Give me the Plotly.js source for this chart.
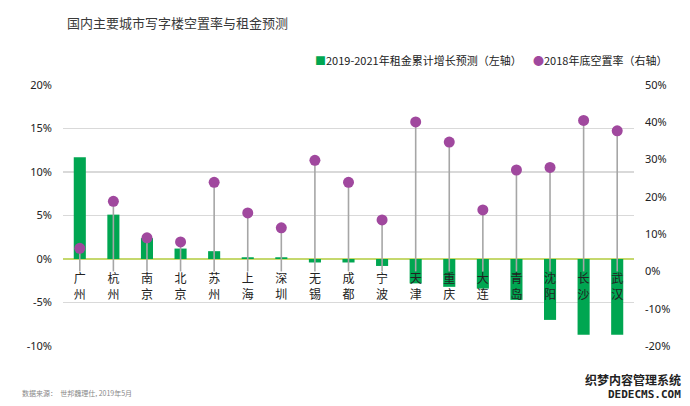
<!DOCTYPE html>
<html><head><meta charset="utf-8">
<script src="https://cdn.plot.ly/plotly-3.0.1.min.js"></script>
<style>html,body{margin:0;padding:0;background:#fff}</style>
</head><body><div id="chart" style="width:690px;height:406px"></div>
<script>
const cities = ['广州','杭州','南京','北京','苏州','上海','深圳','无锡','成都','宁波','天津','重庆','大连','青岛','沈阳','长沙','武汉'];
const rentGrowth = [11.7, 5.1, 2.4, 1.2, 0.9, 0.2, 0.2, -0.4, -0.4, -0.8, -2.8, -3.2, -3.4, -4.7, -7.0, -8.7, -8.7];
const vacancy = [6.2, 18.8, 9.0, 7.9, 23.9, 15.7, 11.7, 29.8, 23.9, 13.8, 40.1, 34.7, 16.5, 27.2, 27.9, 40.5, 37.7];
const leftTicks = [-10, -5, 0, 5, 10, 15, 20];
const rightTicks = [-20, -10, 0, 10, 20, 30, 40, 50];
const seriesNames = ['2019-2021年租金累计增长预测（左轴）', '2018年底空置率（右轴）'];
const titleText = '国内主要城市写字楼空置率与租金预测';
const sourceText = '数据来源：  世邦魏理仕, 2019年5月';

const GREEN = '#00a651', PURPLE = '#a0489e', STEM = '#a6a6a6';
const cjk = '"Noto Sans CJK SC", "Noto Sans", sans-serif';
const labels = cities.map(c => c.split('').join('<br>'));

const bars = {
  type: 'bar', x: labels, y: rentGrowth, name: seriesNames[0],
  marker: {color: GREEN}, width: 0.36, yaxis: 'y', showlegend: false,
  hoverinfo: 'skip'
};
const dots = {
  type: 'scatter', mode: 'markers', x: labels, y: vacancy, name: seriesNames[1], yaxis: 'y2',
  marker: {color: PURPLE, size: 11},
  error_y: {type: 'data', symmetric: false, array: vacancy.map(() => 0), arrayminus: vacancy,
            color: STEM, thickness: 1.6, width: 0},
  showlegend: false, hoverinfo: 'skip'
};

const layout = {
  width: 690, height: 406,
  margin: {l: 63, r: 56, t: 85, b: 60},
  paper_bgcolor: '#fff', plot_bgcolor: '#fff',
  font: {family: cjk, color: '#333'},
  title: {text: titleText, x: 0.097, xanchor: 'left', y: 0.943, yanchor: 'middle',
          font: {size: 13, color: '#3a3a3a', family: cjk}},
  xaxis: {type: 'category', range: [-0.5, cities.length - 0.5], autorange: false,
          anchor: 'free', position: 0.333, showline: false, ticks: '',
          showgrid: false, tickfont: {size: 12, color: '#222', family: cjk}, tickangle: 0, ticklabelstandoff: 11},
  yaxis: {range: [-10, 20], tickvals: leftTicks, ticktext: leftTicks.map(v => v + '%'),
          showgrid: true, gridcolor: '#d9d9d9', gridwidth: 1.6,
          zeroline: true, zerolinecolor: '#c5d86d', zerolinewidth: 1.5,
          showline: false, ticks: '', ticklabelstandoff: 10,
          tickfont: {size: 11, color: '#222', family: '"Noto Sans", sans-serif'}},
  yaxis2: {range: [-20, 50], overlaying: 'y', side: 'right', tickvals: rightTicks,
           ticktext: rightTicks.map(v => v + '%'), showgrid: false, zeroline: false,
           showline: false, ticks: '', ticklabelstandoff: 10,
           tickfont: {size: 11, color: '#222', family: '"Noto Sans", sans-serif'}},
  annotations: [
    {xref: 'paper', yref: 'paper', x: 0.438, y: 1.096, xanchor: 'left', yanchor: 'middle', showarrow: false,
     text: '<span style="color:' + GREEN + '">■</span>' + seriesNames[0], font: {size: 11, color: '#222'}},
    {xref: 'paper', yref: 'paper', x: 0.819, y: 1.096, xanchor: 'left', yanchor: 'middle', showarrow: false,
     text: '<span style="color:' + PURPLE + '">●</span>' + seriesNames[1], font: {size: 11, color: '#222'}},
    {xref: 'paper', yref: 'paper', x: -0.0753, y: -0.18, xanchor: 'left', yanchor: 'middle', showarrow: false,
     text: sourceText, font: {size: 7, color: '#888'}},
    {xref: 'paper', yref: 'paper', x: 1.086, y: -0.13, xanchor: 'right', yanchor: 'middle', showarrow: false,
     text: '<b>织梦内容管理系统</b>', font: {size: 12, color: '#222'}},
    {xref: 'paper', yref: 'paper', x: 1.086, y: -0.185, xanchor: 'right', yanchor: 'middle', showarrow: false,
     text: '<b>DEDECMS.COM</b>', font: {size: 11, color: '#222', family: '"DejaVu Sans Mono", monospace'}}
  ]
};
Plotly.newPlot('chart', [bars, dots], layout, {displayModeBar: false, staticPlot: true});
</script></body></html>
